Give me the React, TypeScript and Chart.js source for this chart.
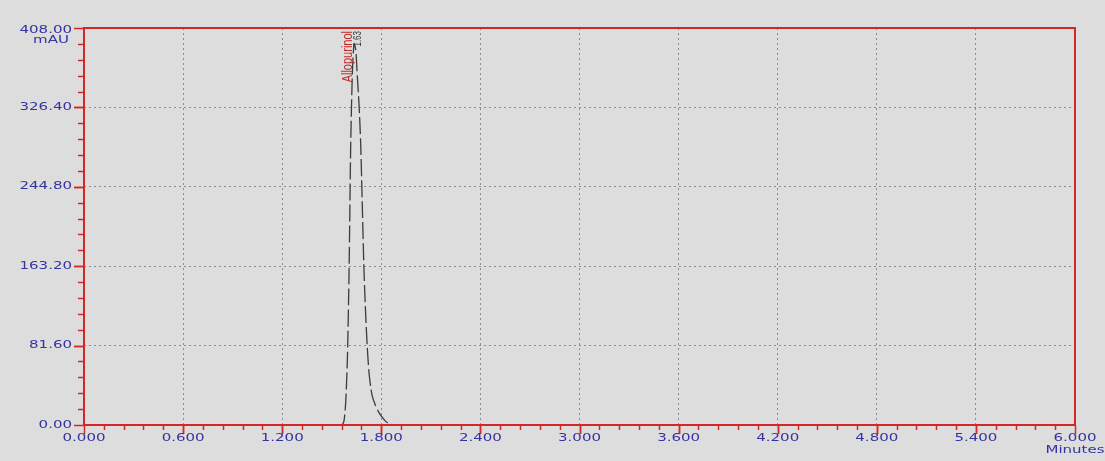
import React, { useEffect, useRef } from "react";
import { Chart, registerables } from "chart.js";

Chart.register(...registerables);

// ---- data ----
const times = [0, 1.5, 1.555, 1.565, 1.575, 1.585, 1.595, 1.605, 1.615, 1.625, 1.635, 1.645, 1.655, 1.665, 1.675, 1.685, 1.695, 1.705, 1.715, 1.725, 1.735, 1.745, 1.765, 1.785, 1.805, 1.825, 1.85, 1.9, 6.0];
const absorbance = [0, 0, 0, 0.5, 5, 25, 70, 160, 290, 362, 392, 386, 358, 330, 290, 225, 160, 115, 80, 55, 40, 30, 20, 13, 8, 4, 1, 0, 0];
const yTicks = [0, 81.6, 163.2, 244.8, 326.4, 408];
const xTicks = [0, 0.6, 1.2, 1.8, 2.4, 3.0, 3.6, 4.2, 4.8, 5.4, 6.0];
const peakNames = ["Allopurinol"];
const peakTimes = [1.63];
const yUnit = "mAU";
const xUnit = "Minutes";

const BG = "#dddddd";
const RED = "#d42828";
const LABEL = "#3434a0";
const FONT = "10px 'DejaVu Sans', sans-serif";
const STRETCH = 1.5;

function stretchedText(ctx: CanvasRenderingContext2D, text: string, x: number, y: number, align: CanvasTextAlign) {
  ctx.save();
  ctx.translate(x, y);
  ctx.scale(STRETCH, 1);
  ctx.textAlign = align;
  ctx.textBaseline = "middle";
  ctx.fillText(text, 0, 0);
  ctx.restore();
}

const chromPlugin = {
  id: "chrom",
  beforeDraw(chart: any) {
    const ctx = chart.ctx as CanvasRenderingContext2D;
    ctx.save();
    ctx.fillStyle = BG;
    ctx.fillRect(0, 0, chart.width, chart.height);
    ctx.restore();
  },
  afterDraw(chart: any) {
    const ctx = chart.ctx as CanvasRenderingContext2D;
    const { left, right, top, bottom } = chart.chartArea;
    const xs = chart.scales.x;
    const ys = chart.scales.y;
    ctx.save();
    // ticks
    ctx.strokeStyle = RED;
    ctx.lineWidth = 1.5;
    for (let i = 0; i < yTicks.length - 1; i++) {
      const step = (yTicks[i + 1] - yTicks[i]) / 5;
      for (let k = 0; k <= 5; k++) {
        const py = Math.round(ys.getPixelForValue(yTicks[i] + k * step)) + 0.5;
        const len = k === 0 || k === 5 ? 10 : 6;
        ctx.beginPath();
        ctx.moveTo(left - len, py);
        ctx.lineTo(left, py);
        ctx.stroke();
      }
    }
    for (let i = 0; i < xTicks.length - 1; i++) {
      const step = (xTicks[i + 1] - xTicks[i]) / 5;
      for (let k = 0; k <= 5; k++) {
        const px = Math.round(xs.getPixelForValue(xTicks[i] + k * step)) + 0.5;
        const len = k === 0 || k === 5 ? 9 : 5;
        ctx.beginPath();
        ctx.moveTo(px, bottom);
        ctx.lineTo(px, bottom + len);
        ctx.stroke();
      }
    }
    // frame
    ctx.lineWidth = 2;
    ctx.strokeRect(left, top, right - left, bottom - top);

    // tick labels
    ctx.fillStyle = LABEL;
    ctx.font = FONT;
    yTicks.forEach((v) => {
      const py = ys.getPixelForValue(v);
      stretchedText(ctx, v.toFixed(2), left - 12, v === yTicks[yTicks.length - 1] ? py + 2 : py, "right");
    });
    stretchedText(ctx, yUnit, left - 33, top + 12, "center");
    xTicks.forEach((v) => {
      const px = xs.getPixelForValue(v);
      stretchedText(ctx, v.toFixed(3), px, bottom + 13, "center");
    });
    stretchedText(ctx, xUnit, right, bottom + 25, "center");

    // peak labels
    peakNames.forEach((name, i) => {
      const px = xs.getPixelForValue(peakTimes[i]);
      ctx.save();
      ctx.translate(px - 5, top + 3);
      ctx.rotate(-Math.PI / 2);
      ctx.scale(1, 1.4);
      ctx.fillStyle = "#c02828";
      ctx.font = "11px 'Liberation Sans', sans-serif";
      ctx.textAlign = "right";
      ctx.textBaseline = "middle";
      ctx.fillText(name, 0, 0);
      ctx.restore();

      ctx.save();
      ctx.translate(px + 5, top + 3);
      ctx.rotate(-Math.PI / 2);
      ctx.scale(1, 1.3);
      ctx.fillStyle = "#333333";
      ctx.font = "8px 'Liberation Sans', sans-serif";
      ctx.textAlign = "right";
      ctx.textBaseline = "middle";
      ctx.fillText(peakTimes[i].toFixed(2), 0, 0);
      ctx.restore();
    });
    ctx.restore();
  },
};

export default function App() {
  const ref = useRef<HTMLCanvasElement | null>(null);
  useEffect(() => {
    document.body.style.margin = "0";
    document.body.style.background = BG;
    const canvas = ref.current!;
    const chart = new Chart(canvas, {
      type: "line",
      data: {
        datasets: [
          {
            data: times.map((t, i) => ({ x: t, y: absorbance[i] })),
            borderColor: "#3c3c3c",
            borderWidth: 1.3,
            borderDash: [17, 4],
            pointRadius: 0,
            tension: 0.25,
            fill: false,
          },
        ],
      },
      options: {
        animation: false,
        responsive: false,
        maintainAspectRatio: false,
        layout: { padding: { top: 28, right: 30, left: 0, bottom: 0 } },
        plugins: { legend: { display: false }, tooltip: { enabled: false } },
        scales: {
          x: {
            type: "linear",
            min: 0,
            max: 6,
            afterBuildTicks: (s: any) => {
              s.ticks = xTicks.map((v) => ({ value: v }));
            },
            afterFit: (s: any) => {
              s.height = 36;
            },
            ticks: { display: false },
            grid: { color: (c: any) => (c.index === 0 || c.index === xTicks.length - 1 ? "rgba(0,0,0,0)" : "#8c8c8c"), drawTicks: false, lineWidth: 1 },
            border: { display: false, dash: [2, 3] },
          },
          y: {
            type: "linear",
            min: 0,
            max: 408,
            afterBuildTicks: (s: any) => {
              s.ticks = yTicks.map((v) => ({ value: v }));
            },
            afterFit: (s: any) => {
              s.width = 84;
            },
            ticks: { display: false },
            grid: { color: (c: any) => (c.index === 0 || c.index === yTicks.length - 1 ? "rgba(0,0,0,0)" : "#8c8c8c"), drawTicks: false, lineWidth: 1 },
            border: { display: false, dash: [2, 3] },
          },
        },
      },
      plugins: [chromPlugin],
    } as any);
    return () => chart.destroy();
  }, []);
  return <canvas ref={ref} width={1105} height={461} style={{ display: "block" }} />;
}
